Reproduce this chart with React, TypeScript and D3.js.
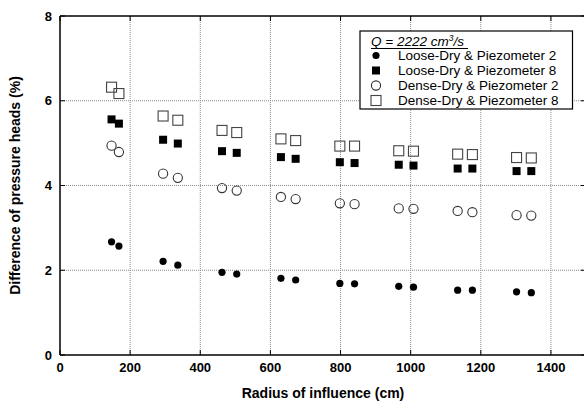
import React from 'react';
import * as d3 from 'd3';

const radii = [147, 168, 294, 336, 462, 504, 630, 672, 798, 840, 966, 1008, 1134, 1176, 1302, 1344];
const loose2 = [2.67, 2.57, 2.21, 2.12, 1.95, 1.91, 1.81, 1.77, 1.69, 1.68, 1.62, 1.6, 1.53, 1.53, 1.49, 1.47];
const loose8 = [5.56, 5.46, 5.08, 4.99, 4.81, 4.77, 4.67, 4.63, 4.55, 4.53, 4.49, 4.47, 4.4, 4.4, 4.34, 4.34];
const dense2 = [4.94, 4.79, 4.28, 4.18, 3.94, 3.88, 3.73, 3.68, 3.58, 3.56, 3.46, 3.45, 3.4, 3.37, 3.3, 3.29];
const dense8 = [6.32, 6.17, 5.64, 5.54, 5.3, 5.25, 5.1, 5.06, 4.93, 4.93, 4.82, 4.81, 4.74, 4.73, 4.66, 4.65];
const xTicks = [0, 200, 400, 600, 800, 1000, 1200, 1400];
const yTicks = [0, 2, 4, 6, 8];
const seriesNames = [
  'Loose-Dry & Piezometer 2',
  'Loose-Dry & Piezometer 8',
  'Dense-Dry & Piezometer 2',
  'Dense-Dry & Piezometer 8',
];

const W = 584;
const H = 412;
const FONT = 'Arial, "Liberation Sans", sans-serif';

// marker drawing: 0 filled circle, 1 filled square, 2 open circle, 3 open square
const Marker = ({ kind, cx, cy }: { kind: number; cx: number; cy: number }) => {
  if (kind === 0) return <circle cx={cx} cy={cy} r={3.6} fill="#000" />;
  if (kind === 1) return <rect x={cx - 4} y={cy - 4} width={8} height={8} fill="#000" />;
  if (kind === 2) return <circle cx={cx} cy={cy} r={4.6} fill="none" stroke="#333" strokeWidth={1.1} />;
  return <rect x={cx - 5} y={cy - 5} width={10} height={10} fill="none" stroke="#444" strokeWidth={1.1} />;
};

export default function App() {
  const x = d3.scaleLinear().domain([0, 1500]).range([60, 586]);
  const y = d3.scaleLinear().domain([0, 8]).range([355, 16]);
  const series = [loose2, loose8, dense2, dense8];
  const [x0, x1] = x.range();
  const [y0, y1] = y.range();

  return (
    <svg width={W} height={H} style={{ position: 'absolute', left: 0, top: 0, background: '#fff' }} fontFamily={FONT}>
      {/* grid */}
      <g stroke="#8a8a8a" strokeWidth={1} strokeDasharray="1,1">
        {xTicks.filter(t => t > 0).map(t => (
          <line key={'gx' + t} x1={x(t)} x2={x(t)} y1={y0} y2={y1} />
        ))}
        {yTicks.filter(t => t > 0 && t < 8).map(t => (
          <line key={'gy' + t} x1={x0} x2={x1} y1={y(t)} y2={y(t)} />
        ))}
      </g>

      {/* frame */}
      <g stroke="#000" strokeWidth={1.5} fill="none">
        <line x1={x0} x2={x1} y1={y0} y2={y0} />
        <line x1={x0} x2={x1} y1={y1} y2={y1} />
        <line x1={x0} x2={x0} y1={y0} y2={y1} />
        <line x1={x1} x2={x1} y1={y0} y2={y1} />
      </g>
      <g stroke="#000" strokeWidth={1}>
        {xTicks.map(t => (
          <g key={'tx' + t}>
            <line x1={x(t)} x2={x(t)} y1={y0} y2={y0 - 5} />
            <line x1={x(t)} x2={x(t)} y1={y1} y2={y1 + 5} />
          </g>
        ))}
        {yTicks.map(t => (
          <g key={'ty' + t}>
            <line x1={x0} x2={x0 + 5} y1={y(t)} y2={y(t)} />
            <line x1={x1} x2={x1 - 5} y1={y(t)} y2={y(t)} />
          </g>
        ))}
      </g>

      {/* tick labels */}
      <g fontSize={13} fontWeight="bold" fill="#000">
        {xTicks.map(t => (
          <text key={'lx' + t} x={x(t)} y={y0 + 17} textAnchor="middle">{t}</text>
        ))}
        {yTicks.map(t => (
          <text key={'ly' + t} x={x0 - 8} y={y(t) + 4.5} textAnchor="end">{t}</text>
        ))}
      </g>

      {/* axis titles */}
      <text x={323} y={398} textAnchor="middle" fontSize={14} fontWeight="bold">Radius of influence (cm)</text>
      <text transform={`translate(20,${(y0 + y1) / 2}) rotate(-90)`} textAnchor="middle" fontSize={14} fontWeight="bold">
        Difference of pressure heads (%)
      </text>

      {/* points */}
      {series.map((vals, si) => (
        <g key={'s' + si}>
          {vals.map((v, i) => (
            <Marker key={i} kind={si} cx={x(radii[i])} cy={y(v)} />
          ))}
        </g>
      ))}

      {/* legend */}
      <g>
        <rect x={360} y={31} width={212.5} height={78} fill="#fff" stroke="#000" strokeWidth={1.2} />
        <text x={371} y={46} fontSize={13.5} fontStyle="italic">
          Q = 2222 cm<tspan fontSize={8.5} baselineShift="super">3</tspan>/s
        </text>
        <line x1={371} x2={468} y1={48.5} y2={48.5} stroke="#000" strokeWidth={1} />
        {seriesNames.map((name, i) => (
          <g key={name}>
            <Marker kind={i} cx={376} cy={55.5 + i * 15} />
            <text x={398} y={60 + i * 15} fontSize={13.5}>{name}</text>
          </g>
        ))}
      </g>
    </svg>
  );
}
